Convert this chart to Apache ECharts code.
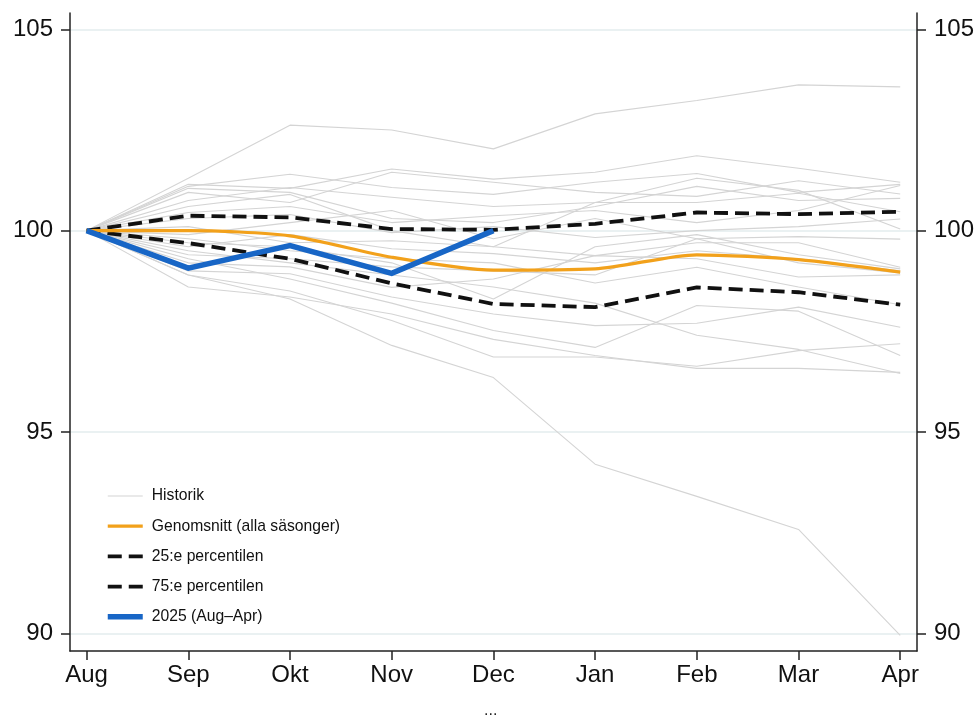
<!DOCTYPE html>
<html><head><meta charset="utf-8">
<script src="https://cdn.jsdelivr.net/npm/echarts@6/dist/echarts.min.js"></script>
<style>html,body{margin:0;padding:0;background:#fff}#c{width:980px;height:715px}</style>
</head><body><div id="c"></div>
<script>
const months = ['Aug','Sep','Okt','Nov','Dec','Jan','Feb','Mar','Apr'];
const yTicks = [90, 95, 100, 105];
const historik = [
  [100, 101.30, 102.62, 102.50, 102.03, 102.90, 103.23, 103.62, 103.57],
  [100, 98.90, 98.30, 97.15, 96.35, 94.20, 93.40, 92.58, 89.95],
  [100, 101.15, 101.05, 101.53, 101.28, 101.45, 101.86, 101.55, 101.20],
  [100, 101.10, 101.40, 101.07, 100.90, 101.20, 101.42, 100.95, 101.15],
  [100, 100.95, 100.70, 101.45, 101.20, 100.95, 100.85, 101.24, 100.91],
  [100, 100.75, 101.07, 100.83, 100.60, 100.70, 101.30, 101.00, 100.04],
  [100, 100.45, 100.60, 100.20, 100.37, 100.50, 100.20, 100.50, 101.12],
  [100, 100.30, 100.40, 99.95, 100.10, 99.83, 100.00, 100.10, 100.29],
  [100, 99.90, 100.20, 100.50, 99.80, 100.30, 99.80, 99.85, 99.79],
  [100, 100.10, 99.70, 99.75, 99.60, 99.38, 99.70, 99.70, 99.09],
  [100, 99.60, 99.90, 99.55, 99.43, 99.20, 99.50, 99.30, 99.00],
  [100, 99.40, 99.30, 99.10, 99.00, 98.90, 99.80, 99.20, 98.95],
  [100, 99.20, 99.10, 98.59, 98.80, 99.38, 99.30, 98.85, 98.90],
  [100, 99.00, 98.93, 98.35, 97.93, 97.64, 97.70, 98.10, 97.60],
  [100, 99.30, 98.80, 98.20, 97.52, 97.10, 98.14, 98.00, 96.90],
  [100, 98.90, 98.50, 97.77, 96.86, 96.86, 96.63, 97.02, 97.19],
  [100, 98.60, 98.35, 97.93, 97.30, 96.90, 96.58, 96.58, 96.48],
  [100, 99.50, 99.20, 98.90, 98.60, 98.20, 97.40, 97.05, 96.45],
  [100, 99.80, 99.50, 99.30, 99.20, 98.70, 99.09, 98.60, 98.16],
  [100, 100.60, 100.90, 100.00, 99.60, 100.70, 100.70, 100.93, 100.47],
  [100, 101.05, 100.95, 100.30, 100.20, 100.60, 101.10, 100.75, 100.80],
  [100, 99.70, 99.60, 99.20, 98.30, 99.60, 99.90, 99.40, 99.05]
];
const genomsnitt = [100, 100.00, 99.87, 99.34, 99.02, 99.05, 99.40, 99.28, 98.97];
const p25 = [100, 99.69, 99.30, 98.69, 98.18, 98.10, 98.59, 98.47, 98.16];
const p75 = [100, 100.37, 100.33, 100.04, 100.02, 100.17, 100.45, 100.41, 100.47];
const ar2025 = [100, 99.07, 99.63, 98.94, 100.00];

const names = ['Historik', 'Genomsnitt (alla säsonger)', '25:e percentilen', '75:e percentilen', '2025 (Aug–Apr)'];
const toXY = arr => arr.map((v, i) => [i, v]);
const FONT = "'Liberation Sans', Arial, sans-serif";

const styles = {
  hist: { color: '#d4d4d4', width: 1.1 },
  mean: { color: '#F2A11B', width: 3.2 },
  p25: { color: '#111', width: 3.8, type: [14, 7] },
  p75: { color: '#111', width: 3.8, type: [14, 7] },
  cur: { color: '#1866C6', width: 5.5 }
};

const series = [];
historik.forEach(h => series.push({
  name: names[0], type: 'line', data: toXY(h), symbol: 'none', silent: true,
  lineStyle: styles.hist, itemStyle: { color: styles.hist.color }, z: 2
}));
series.push({ name: names[2], type: 'line', data: toXY(p25), symbol: 'none',
  lineStyle: styles.p25, itemStyle: { color: '#111' }, z: 3 });
series.push({ name: names[3], type: 'line', data: toXY(p75), symbol: 'none',
  lineStyle: styles.p75, itemStyle: { color: '#111' }, z: 3 });
series.push({ name: names[1], type: 'line', data: toXY(genomsnitt), symbol: 'none', smooth: 0.25,
  lineStyle: styles.mean, itemStyle: { color: styles.mean.color }, z: 4 });
series.push({ name: names[4], type: 'line', data: toXY(ar2025), symbol: 'none',
  lineStyle: Object.assign({ join: 'miter' }, styles.cur), itemStyle: { color: styles.cur.color }, z: 5 });

const yBase = (pos, split) => ({
  type: 'value', position: pos, min: 89.56, max: 105.405,
  axisLine: { show: true, onZero: false, lineStyle: { color: '#222', width: 1.5 } },
  axisTick: { show: true, length: 9, customValues: yTicks, lineStyle: { color: '#222', width: 1.5 } },
  axisLabel: { customValues: yTicks, fontSize: 24, margin: 17, color: '#111', fontFamily: FONT },
  splitLine: { show: split, lineStyle: { color: '#e3ecee', width: 1.5 } }
});

const legendStyles = [styles.hist, styles.mean, styles.p25, styles.p75, styles.cur];
const chart = echarts.init(document.getElementById('c'), null, { renderer: 'canvas' });
chart.setOption({
  animation: false,
  backgroundColor: '#fff',
  grid: { left: 70, right: 63, top: 13, bottom: 64, containLabel: false },
  xAxis: {
    type: 'value', min: -0.163, max: 8.165,
    axisLine: { show: true, onZero: false, lineStyle: { color: '#222', width: 1.5 } },
    axisTick: { show: true, length: 9, customValues: months.map((m, i) => i), lineStyle: { color: '#222', width: 1.5 } },
    axisLabel: { customValues: months.map((m, i) => i), formatter: v => months[Math.round(v)],
      fontSize: 24, margin: 12, color: '#111', fontFamily: FONT },
    splitLine: { show: false }
  },
  yAxis: [yBase('left', true), yBase('right', false)],
  legend: {
    data: names.map((n, i) => ({ name: n, lineStyle: Object.assign({}, legendStyles[i]), itemStyle: { opacity: 0 } })),
    orient: 'vertical', left: 100, top: 483,
    itemWidth: 35, itemHeight: 14, itemGap: 14.2,
    itemStyle: { opacity: 0 },
    textStyle: { fontSize: 15.7, lineHeight: 16, color: '#111', fontFamily: FONT, padding: [0, 0, 0, 4] },
    selectedMode: false
  },
  graphic: [{ type: 'text', left: 484, top: 703, style: { text: '...', fontSize: 16, fill: '#222', fontFamily: FONT } }],
  series: series
});
</script></body></html>
